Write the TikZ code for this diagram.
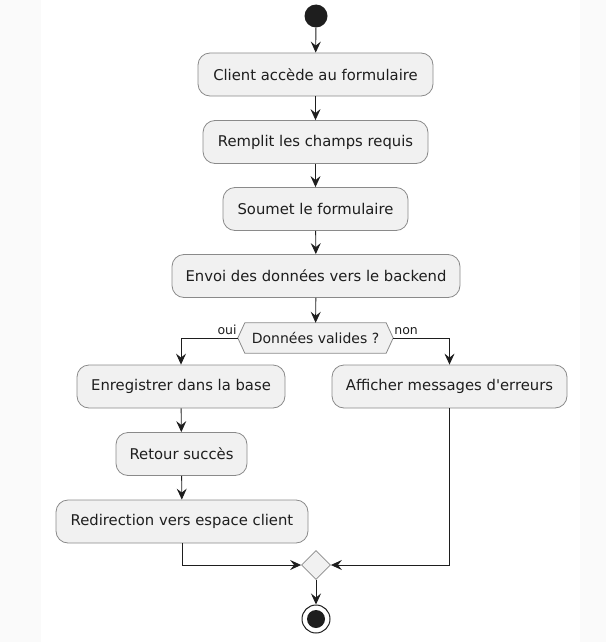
\documentclass[tikz,border=0pt]{standalone}
\usepackage{fontspec}
\setmainfont{DejaVu Sans}[Ligatures=TeXOff]
\usetikzlibrary{arrows.meta,shapes.geometric,backgrounds}
\definecolor{boxfill}{HTML}{F1F1F1}
\definecolor{boxline}{HTML}{8A8A8A}
\definecolor{ink}{HTML}{1E1E1E}
\definecolor{edgebg}{HTML}{FAFAFA}
\begin{document}
\begin{tikzpicture}[x=1pt,y=-1pt,
  act/.style={draw=boxline,line width=0.8pt,fill=boxfill,rounded corners=12pt,
    minimum height=43pt,inner sep=0pt,text=ink,font=\fontsize{14.8}{17}\selectfont},
  flow/.style={draw=ink,line width=0.9pt,-{Stealth[length=11pt,width=10pt,inset=4pt]}},
  lab/.style={font=\fontsize{12.5}{14}\selectfont,text=ink,inner sep=0pt}]
\useasboundingbox (0,0) rectangle (606,642);
\fill[edgebg] (0,0) rectangle (41,642);
\fill[edgebg] (580,0) rectangle (606,642);
\node[circle,fill=ink,minimum size=23pt,inner sep=0pt] (start) at (316,16) {};
\node[act,minimum width=235pt] (b1) at (315.5,74.5) {Client accède au formulaire};
\node[act,minimum width=225pt] (b2) at (315.5,142) {Remplit les champs requis};
\node[act,minimum width=185pt] (b3) at (315.5,209) {Soumet le formulaire};
\node[act,minimum width=288pt] (b4) at (316,276) {Envoi des données vers le backend};
\node[minimum width=155pt,minimum height=30pt,inner sep=0pt,text=ink,font=\fontsize{14}{16}\selectfont] (dec) at (315.5,338) {Données valides ?};
\begin{pgfonlayer}{background}
\draw[draw=boxline,line width=0.8pt,fill=boxfill] (dec.west) -- ([xshift=7pt]dec.north west) -- ([xshift=-7pt]dec.north east) -- (dec.east) -- ([xshift=-7pt]dec.south east) -- ([xshift=7pt]dec.south west) -- cycle;
\end{pgfonlayer}
\node[act,minimum width=208pt] (l1) at (181,386.5) {Enregistrer dans la base};
\node[act,minimum width=131pt] (l2) at (181.5,454) {Retour succès};
\node[act,minimum width=252pt] (l3) at (182,521.5) {Redirection vers espace client};
\node[act,minimum width=235pt] (r1) at (449.5,386.5) {Afficher messages d'erreurs};
\node[diamond,draw=boxline,line width=0.8pt,fill=boxfill,minimum width=29pt,minimum height=29pt,inner sep=0pt] (merge) at (316,565) {};
\node[circle,draw=ink,line width=1pt,fill=white,minimum size=28pt,inner sep=0pt] (stop) at (316,619) {};
\node[circle,fill=ink,minimum size=18pt,inner sep=0pt] (stopin) at (stop.center) {};
\node[lab,anchor=base east] (oui) at ([xshift=-1pt,yshift=4pt]dec.west) {oui};
\node[lab,anchor=base west] (non) at ([xshift=1pt,yshift=4pt]dec.east) {non};
\draw[flow] (start) -- (b1);
\draw[flow] (b1) -- (b2);
\draw[flow] (b2) -- (b3);
\draw[flow] (b3) -- (b4);
\draw[flow] (b4) -- (dec);
\draw[flow] (dec.west) -| (l1.north);
\draw[flow] (dec.east) -| (r1.north);
\draw[flow] (l1) -- (l2);
\draw[flow] (l2) -- (l3);
\draw[flow] (l3.south) |- (merge.west);
\draw[flow] (r1.south) |- (merge.east);
\draw[flow] (merge) -- (stop);
\end{tikzpicture}
\end{document}
